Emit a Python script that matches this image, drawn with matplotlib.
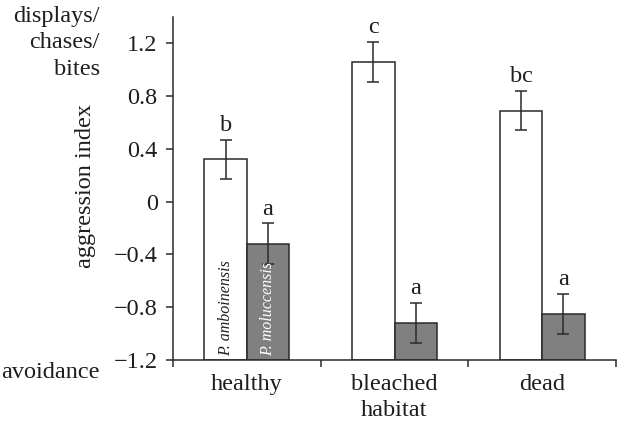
import numpy as np
import matplotlib.pyplot as plt

# data
habitats = ["healthy", "bleached", "dead"]
amboinensis = [0.32, 1.06, 0.69]
amboinensis_err = [0.15, 0.15, 0.15]
moluccensis = [-0.32, -0.92, -0.85]
moluccensis_err = [0.155, 0.15, 0.15]
letters_amb = ["b", "c", "bc"]
letters_mol = ["a", "a", "a"]
yticks = [-1.2, -0.8, -0.4, 0, 0.4, 0.8, 1.2]

plt.rcParams['font.family'] = ['Liberation Serif', 'DejaVu Serif']
fs = 17.5
base = -1.2
col_axis = "#2a2a2a"
col_text = "#1e1e1e"

fig = plt.figure(figsize=(6.17, 4.26), dpi=100)
ax = fig.add_axes([173/617, 66/426, 443/617, 343/426])

x = np.arange(len(habitats))
w = 0.287
amb = np.array(amboinensis)
mol = np.array(moluccensis)
ax.bar(x - w/2, amb - base, w, bottom=base, color="white", edgecolor=col_axis, linewidth=1.1)
ax.bar(x + w/2, mol - base, w, bottom=base, color="#808080", edgecolor=col_axis, linewidth=1.1)
ax.errorbar(x - w/2, amb, yerr=amboinensis_err, fmt="none", ecolor=col_axis, elinewidth=1.1, capsize=4.5, capthick=1.1)
ax.errorbar(x + w/2, mol, yerr=moluccensis_err, fmt="none", ecolor=col_axis, elinewidth=1.1, capsize=4.5, capthick=1.1)

for i in range(len(habitats)):
  ax.text(x[i] - w/2, amb[i] + amboinensis_err[i] + 0.03, letters_amb[i], ha="center", va="bottom", fontsize=fs, color=col_text)
  ax.text(x[i] + w/2, mol[i] + moluccensis_err[i] + 0.03, letters_mol[i], ha="center", va="bottom", fontsize=fs, color=col_text)

# species names inside the healthy bars
ax.text(x[0] - w/2, -0.81, "P. amboinensis", rotation=90, ha="center", va="center", fontsize=11.5, style="italic", color=col_text)
ax.text(x[0] + w/2, -0.81, "P. moluccensis", rotation=90, ha="center", va="center", fontsize=11.5, style="italic", color="white")

ax.set_xlim(-0.5, 2.5)
ax.set_ylim(-1.2, 1.4)
ax.set_yticks(yticks)
ax.set_yticklabels(["\u22121.2", "\u22120.8", "\u22120.4", "0", "0.4", "0.8", "1.2"])
ax.set_xticks([-0.5, 0.5, 1.5, 2.5])
ax.set_xticklabels([])
ax.set_xticks(x, minor=True)
ax.set_xticklabels(habitats, minor=True)
ax.tick_params(axis="x", which="major", length=5, width=1.1, color=col_axis)
ax.tick_params(axis="x", which="minor", length=0, pad=10, labelsize=fs, labelcolor=col_text)
ax.tick_params(axis="y", length=5, width=1.1, color=col_axis, pad=6, labelsize=fs, labelcolor=col_text)
for s in ["top", "right"]:
  ax.spines[s].set_visible(False)
for s in ["left", "bottom"]:
  ax.spines[s].set_color(col_axis)
  ax.spines[s].set_linewidth(1.1)
ax.set_xlabel("habitat", fontsize=fs, color=col_text, labelpad=4)

fig.text(85/617, 1 - 186/426, "aggression index", rotation=90, ha="center", va="center", fontsize=fs, color=col_text)
fig.text(100/617, 1 - 43/426, "displays/\nchases/\nbites", ha="right", va="center", multialignment="right", linespacing=1.35, fontsize=fs, color=col_text)
fig.text(100/617, 1 - 372/426, "avoidance", ha="right", va="center", fontsize=fs, color=col_text)

plt.savefig("out.png", dpi=100)
